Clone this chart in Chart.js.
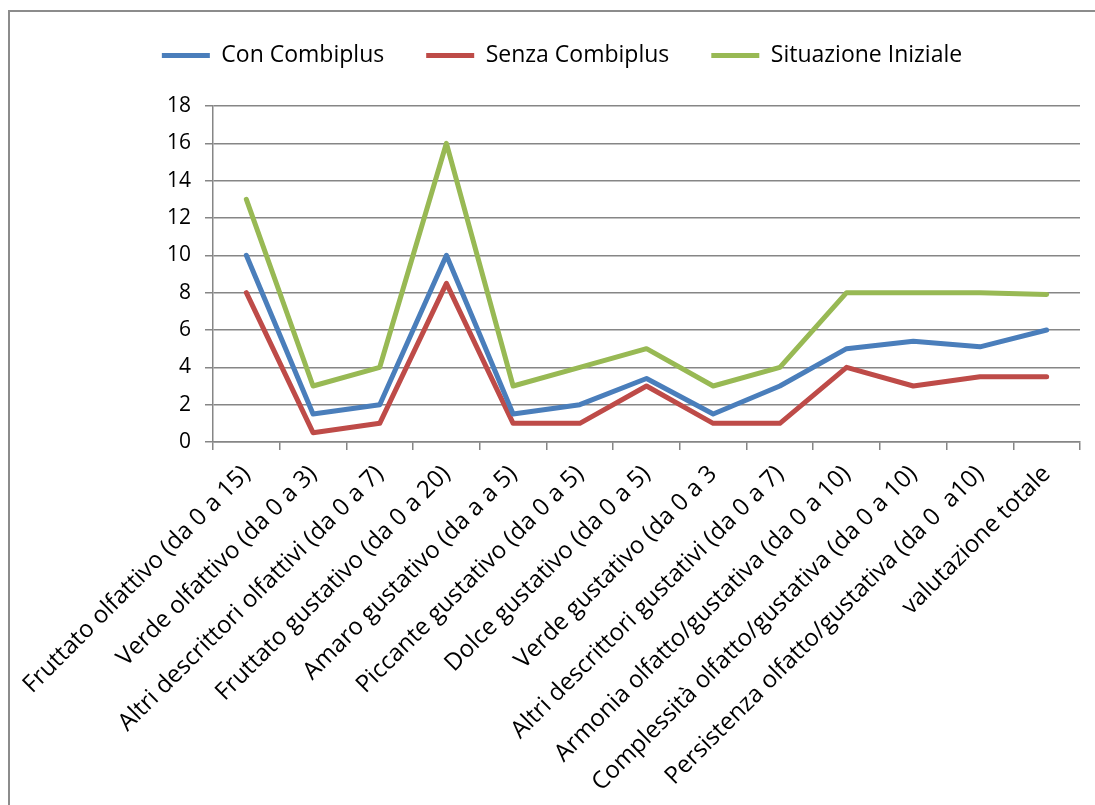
<!DOCTYPE html>
<html>
<head>
  <meta charset="utf-8">
  <title>Con / Senza Combiplus</title>
  <script src="https://cdn.jsdelivr.net/npm/chart.js@4.4.0/dist/chart.umd.min.js"></script>
  <style>
    html, body { margin: 0; padding: 0; background: #fff; overflow: hidden; }
    #frame { position: absolute; left: 8px; top: 10px; width: 1200px; height: 900px;
             border-left: 2px solid #8c8c8c; border-top: 2px solid #8c8c8c; }
    #myChart { position: absolute; left: 0; top: 0; }
  </style>
</head>
<body>
<div id="frame"></div>
<canvas id="myChart" width="1095" height="805"></canvas>
<script>
  var categories = [
    'Fruttato olfattivo (da 0 a 15)',
    'Verde olfattivo (da 0 a 3)',
    'Altri descrittori olfattivi (da 0 a 7)',
    'Fruttato gustativo (da 0 a 20)',
    'Amaro gustativo (da a a 5)',
    'Piccante gustativo (da 0 a 5)',
    'Dolce gustativo (da 0 a 5)',
    'Verde gustativo (da 0 a 3',
    'Altri descrittori gustativi (da 0 a 7)',
    'Armonia olfatto/gustativa (da 0 a 10)',
    'Complessità olfatto/gustativa (da 0 a 10)',
    'Persistenza olfatto/gustativa (da 0  a10)',
    'valutazione totale'
  ];
  var conCombiplus = [10, 1.5, 2, 10, 1.5, 2, 3.4, 1.5, 3, 5, 5.4, 5.1, 6];
  var senzaCombiplus = [8, 0.5, 1, 8.5, 1, 1, 3, 1, 1, 4, 3, 3.5, 3.5];
  var situazioneIniziale = [13, 3, 4, 16, 3, 4, 5, 3, 4, 8, 8, 8, 7.9];
  var yTicks = [0, 2, 4, 6, 8, 10, 12, 14, 16, 18];

  var gridColor = '#868686';

  function line(label, data, color) {
    return {
      label: label,
      data: data,
      borderColor: color,
      backgroundColor: color,
      borderWidth: 5,
      pointRadius: 0,
      tension: 0,
      borderCapStyle: 'round',
      borderJoinStyle: 'round'
    };
  }

  // extra room under the legend, like the gap in the original
  var legendGap = {
    id: 'legendGap',
    beforeInit: function(chart) {
      var fit = chart.legend.fit;
      chart.legend.fit = function() {
        fit.call(this);
        this.height += 29;
      };
    }
  };

  var ctx = document.getElementById('myChart').getContext('2d');
  var chart = new Chart(ctx, {
    type: 'line',
    data: {
      labels: categories,
      datasets: [
        line('Con Combiplus', conCombiplus, '#4a7ebb'),
        line('Senza Combiplus', senzaCombiplus, '#be4b48'),
        line('Situazione Iniziale', situazioneIniziale, '#98b954')
      ]
    },
    plugins: [legendGap],
    options: {
      responsive: false,
      animation: false,
      layout: { padding: { left: 44, right: 15, top: 2, bottom: 0 } },
      plugins: {
        legend: {
          display: true,
          position: 'top',
          labels: {
            color: '#000',
            font: { family: 'Open Sans', size: 23 },
            boxWidth: 48,
            boxHeight: 5,
            padding: 42,
            generateLabels: function(chart) {
              return chart.data.datasets.map(function(ds, i) {
                return {
                  text: ds.label,
                  fillStyle: ds.borderColor,
                  strokeStyle: ds.borderColor,
                  lineWidth: 0,
                  datasetIndex: i
                };
              });
            }
          }
        },
        tooltip: { enabled: false }
      },
      scales: {
        x: {
          offset: true,
          grid: {
            offset: true,
            drawOnChartArea: false,
            color: gridColor,
            lineWidth: 1.5,
            tickLength: 8
          },
          border: { color: gridColor, width: 1.5 },
          ticks: {
            autoSkip: false,
            maxRotation: 45,
            minRotation: 45,
            padding: 10,
            color: '#000',
            font: { family: 'Open Sans', size: 24 }
          },
          afterFit: function(scale) { scale.height = 805 - 442; }
        },
        y: {
          min: 0,
          max: 18,
          afterBuildTicks: function(scale) {
            scale.ticks = yTicks.map(function(v) { return { value: v }; });
          },
          grid: { color: gridColor, lineWidth: 1.5, tickLength: 8 },
          border: { color: gridColor, width: 1.5 },
          ticks: {
            padding: 14,
            color: '#000',
            font: { family: 'Open Sans', size: 21 }
          },
          afterFit: function(scale) { scale.width = 169; }
        }
      }
    }
  });
</script>
</body>
</html>
